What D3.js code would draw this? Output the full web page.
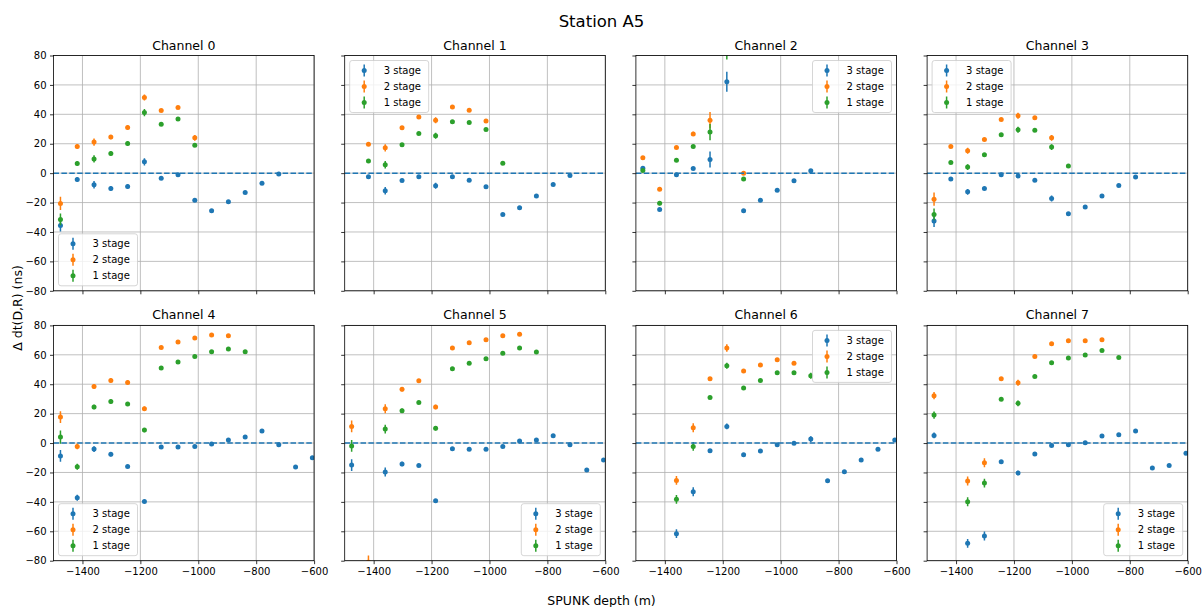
<!DOCTYPE html>
<html>
<head>
<meta charset="utf-8">
<script src="https://cdn.jsdelivr.net/npm/d3@7"></script>
<style>
  body { margin: 0; background: #fff; }
  svg text { font-family: "DejaVu Sans", sans-serif; fill: #000; }
</style>
</head>
<body>
<svg width="1203" height="607"></svg>
<script>
// depths of the pulser positions (m)
var depths = [-1476, -1418, -1360, -1302, -1244, -1186, -1128, -1070, -1012, -954, -896, -838, -780, -722, -664, -606];

var xTicks = [-1400, -1200, -1000, -800, -600];
var yTicks = [-80, -60, -40, -20, 0, 20, 40, 60, 80];

var channelNames = ["Channel 0", "Channel 1", "Channel 2", "Channel 3", "Channel 4", "Channel 5", "Channel 6", "Channel 7"];
var seriesNames = ["3 stage", "2 stage", "1 stage"];
var seriesColors = ["#1f77b4", "#ff7f0e", "#2ca02c"];
var legendLoc = ["ll", "ul", "ur", "ul", "ll", "lr", "ur", "lr"];

var N = null;

// channel 0
var ch0_s3 = [-35.6, -4.3, -7.9, -10.4, -9.1, 7.7, -3.4, -1.1, -18.4, -25.6, -19.5, -13.1, -6.8, -0.5, N, N];
var ch0_e3 = [4, 1.5, 2.5, 1.5, 1.5, 2.5, 1, 1, 1, 1, 1, 1, 1, 1, N, N];
var ch0_s2 = [-20.6, 18.1, 21.1, 24.5, 31.0, 51.4, 42.6, 44.6, 24.0, N, N, N, N, N, N, N];
var ch0_e2 = [4.5, 1.5, 2.5, 1.5, 1.5, 2, 1, 1, 2, N, N, N, N, N, N, N];
var ch0_s1 = [-31.5, 6.6, 9.7, 13.4, 20.2, 41.2, 33.3, 36.9, 19.0, N, N, N, N, N, N, N];
var ch0_e1 = [4, 1.5, 2.5, 1.5, 1.5, 2.5, 1, 1, 1, N, N, N, N, N, N, N];

// channel 1
var ch1_s3 = [N, -2.5, -12.0, -5.0, -2.5, -8.6, -2.5, -4.8, -9.3, -28.1, -23.6, -15.6, -7.7, -1.6, N, N];
var ch1_e3 = [N, 1, 2.5, 1, 1, 2, 1, 1, 1, 1, 1, 1, 1, 1, N, N];
var ch1_s2 = [N, 19.7, 17.2, 30.8, 38.1, 36.0, 44.9, 42.8, 35.4, N, N, N, N, N, N, N];
var ch1_e2 = [N, 1, 2.5, 1, 1, 2, 1, 1, 1, N, N, N, N, N, N, N];
var ch1_s1 = [N, 8.2, 5.7, 19.3, 27.0, 25.4, 34.9, 34.4, 29.7, 6.8, N, N, N, N, N, N];
var ch1_e1 = [N, 1, 2.5, 1, 1, 2, 1, 1, 1, 1, N, N, N, N, N, N];

// channel 2
var ch2_s3 = [3.4, -24.7, -1.1, 3.2, 9.3, 62.1, -25.6, -18.4, -11.6, -5.2, 1.6, N, N, N, N, N];
var ch2_e3 = [1, 1, 1, 1, 5.5, 6.8, 1, 1, 1, 1, 1, N, N, N, N, N];
var ch2_s2 = [10.4, -10.9, 17.5, 26.7, 36.0, N, 0.0, N, N, N, N, N, N, N, N, N];
var ch2_e2 = [1, 1, 1, 1.5, 5.5, N, 1, N, N, N, N, N, N, N, N, N];
var ch2_s1 = [1.8, -20.4, 8.8, 18.1, 27.9, 84, -3.9, N, N, N, N, N, N, N, N, N];
var ch2_e1 = [1, 1.5, 1, 1, 5.5, 6.8, 1, N, N, N, N, N, N, N, N, N];

// channel 3
var ch3_s3 = [-32.6, -3.9, -12.7, -10.4, -1.1, -2.0, -4.8, -17.2, -27.6, -23.1, -15.6, -8.4, -2.7, N, N, N];
var ch3_e3 = [4, 1, 2, 1, 1, 1, 1, 2, 1, 1, 1, 1, 1, N, N, N];
var ch3_s2 = [-17.7, 18.1, 15.2, 22.9, 36.5, 39.0, 37.6, 24.0, N, N, N, N, N, N, N, N];
var ch3_e2 = [4.5, 1, 2, 1, 1, 2, 1, 2, N, N, N, N, N, N, N, N];
var ch3_s1 = [-28.1, 7.3, 4.1, 12.5, 26.1, 29.5, 29.2, 17.7, 4.8, N, N, N, N, N, N, N];
var ch3_e1 = [4, 1, 2, 1, 1, 2, 1, 2, 1, N, N, N, N, N, N, N];

// channel 4
var ch4_s3 = [-8.8, -37.2, -4.1, -7.7, -15.9, -39.7, -2.7, -2.7, -2.3, -0.7, 2.0, 4.1, 8.2, -1.1, -16.3, -10.0];
var ch4_e3 = [4, 2, 2, 1.5, 1, 1, 1, 1, 1, 1, 1, 1, 1, 1, 1, 1];
var ch4_s2 = [17.7, -2.3, 38.5, 42.6, 41.2, 23.3, 65.0, 68.7, 71.4, 73.4, 73.0, N, N, N, N, N];
var ch4_e2 = [4, 2, 1.5, 1.5, 1.5, 1.5, 1, 1, 1, 1, 1, N, N, N, N, N];
var ch4_s1 = [4.1, -16.1, 24.5, 28.3, 26.5, 8.8, 51.0, 55.1, 58.9, 62.1, 63.9, 62.1, N, N, N, N];
var ch4_e1 = [4.5, 2, 1.5, 1.5, 1, 1.5, 1, 1, 1, 1, 1, 1, N, N, N, N];

// channel 5
var ch5_s3 = [-15.0, N, -19.7, -14.3, -15.2, -39.2, -3.9, -4.3, -4.3, -2.3, 1.4, 2.0, 5.0, -1.1, -18.4, -11.6];
var ch5_e3 = [4, N, 3, 1.5, 1, 1, 1, 1, 1, 1, 1, 1, 1, 1, 1, 1];
var ch5_s2 = [11.3, -81, 23.3, 36.5, 42.4, 24.5, 64.6, 68.2, 70.3, 73.0, 73.9, N, N, N, N, N];
var ch5_e2 = [4, 4.5, 3, 1.5, 1, 1.5, 1, 1, 1, 1, 1, N, N, N, N, N];
var ch5_s1 = [-2.0, N, 9.5, 22.0, 27.6, 10.0, 50.5, 54.2, 57.3, 61.0, 64.6, 61.9, N, N, N, N];
var ch5_e1 = [4, N, 3, 1.5, 1, 1.5, 1, 1, 1, 1, 1, 1, N, N, N, N];

// channel 6
var ch6_s3 = [N, N, -61.6, -33.1, -5.2, 11.3, -7.9, -5.4, -1.1, -0.2, 2.7, -25.6, -19.5, -11.6, -4.3, 2.0];
var ch6_e3 = [N, N, 3, 3, 1, 2, 1, 1, 1, 1, 2, 1, 1, 1, 1, 1];
var ch6_s2 = [N, N, -25.4, 10.4, 43.7, 64.6, 49.0, 53.0, 56.7, 54.2, N, N, N, N, N, N];
var ch6_e2 = [N, N, 3, 3, 1, 2.5, 1, 1, 1, 1, N, N, N, N, N, N];
var ch6_s1 = [N, N, -38.3, -2.3, 31.0, 52.6, 37.4, 42.6, 47.8, 47.8, 45.8, N, N, N, N, N];
var ch6_e1 = [N, N, 3, 3, 1, 2, 1, 1, 1, 1, 2, N, N, N, N, N];

// channel 7
var ch7_s3 = [5.2, N, -68.2, -63.2, -12.7, -20.4, -7.5, -1.6, -1.1, 0.2, 4.8, 5.7, 8.2, -17.0, -15.2, -7.0];
var ch7_e3 = [2, N, 3, 3, 1, 1.5, 1, 1, 1, 1, 1, 1, 1, 1, 1, 1];
var ch7_s2 = [32.2, N, -25.8, -13.4, 43.7, 41.0, 58.9, 67.5, 69.6, 69.6, 70.3, N, N, N, N, N];
var ch7_e2 = [2.5, N, 3, 3, 1, 2, 1, 1, 1, 1, 1, N, N, N, N, N];
var ch7_s1 = [19.0, N, -39.9, -27.2, 29.7, 27.0, 45.3, 54.6, 57.8, 59.8, 63.0, 58.2, N, N, N, N];
var ch7_e1 = [2.5, N, 3, 3, 1, 2, 1, 1, 1, 1, 1, 1, N, N, N, N];

var channelValues = [
  [ch0_s3, ch0_s2, ch0_s1], [ch1_s3, ch1_s2, ch1_s1], [ch2_s3, ch2_s2, ch2_s1], [ch3_s3, ch3_s2, ch3_s1],
  [ch4_s3, ch4_s2, ch4_s1], [ch5_s3, ch5_s2, ch5_s1], [ch6_s3, ch6_s2, ch6_s1], [ch7_s3, ch7_s2, ch7_s1]
];
var channelErrors = [
  [ch0_e3, ch0_e2, ch0_e1], [ch1_e3, ch1_e2, ch1_e1], [ch2_e3, ch2_e2, ch2_e1], [ch3_e3, ch3_e2, ch3_e1],
  [ch4_e3, ch4_e2, ch4_e1], [ch5_e3, ch5_e2, ch5_e1], [ch6_e3, ch6_e2, ch6_e1], [ch7_e3, ch7_e2, ch7_e1]
];

var svg = d3.select("svg");

var axLeft = [53.5, 344.7, 635.9, 927.1],
  axTop = [55.5, 325.4],
  axW = 260.6,
  axH = 235.3;

var xScale = d3.scaleLinear().domain([-1500, -600]).range([0, axW]);
var yScale = d3.scaleLinear().domain([-80, 80]).range([axH, 0]);

// figure title and shared labels
svg.append("text")
  .attr("x", 601.5)
  .attr("y", 27)
  .attr("text-anchor", "middle")
  .attr("font-size", "16.5px")
  .text("Station A5");

svg.append("text")
  .attr("x", 601.5)
  .attr("y", 605)
  .attr("text-anchor", "middle")
  .attr("font-size", "12.5px")
  .text("SPUNK depth (m)");

svg.append("text")
  .attr("transform", "translate(22,308) rotate(-90)")
  .attr("text-anchor", "middle")
  .attr("font-size", "12.5px")
  .text("Δ dt(D,R) (ns)");

channelNames.forEach(function (name, c) {
  var row = Math.floor(c / 4), col = c % 4;
  var g = svg.append("g")
    .attr("transform", "translate(" + axLeft[col] + "," + axTop[row] + ")");

  g.append("clipPath")
    .attr("id", "clip" + c)
    .append("rect")
    .attr("width", axW)
    .attr("height", axH);

  // grid
  g.append("g")
    .selectAll("line")
    .data(xTicks)
    .enter()
    .append("line")
    .attr("x1", function (d) { return xScale(d); })
    .attr("x2", function (d) { return xScale(d); })
    .attr("y1", 0)
    .attr("y2", axH)
    .attr("stroke", "#b0b0b0")
    .attr("stroke-width", 0.8);
  g.append("g")
    .selectAll("line")
    .data(yTicks)
    .enter()
    .append("line")
    .attr("x1", 0)
    .attr("x2", axW)
    .attr("y1", function (d) { return yScale(d); })
    .attr("y2", function (d) { return yScale(d); })
    .attr("stroke", "#b0b0b0")
    .attr("stroke-width", 0.8);

  // error bars + markers
  var plot = g.append("g").attr("clip-path", "url(#clip" + c + ")");
  seriesNames.forEach(function (s, k) {
    var vals = channelValues[c][k], errs = channelErrors[c][k];
    var pts = [];
    vals.forEach(function (v, i) {
      if (v !== null) pts.push({ x: depths[i], y: v, e: errs[i] });
    });
    var sg = plot.append("g");
    sg.selectAll("line")
      .data(pts)
      .enter()
      .append("line")
      .attr("x1", function (d) { return xScale(d.x); })
      .attr("x2", function (d) { return xScale(d.x); })
      .attr("y1", function (d) { return yScale(d.y - d.e); })
      .attr("y2", function (d) { return yScale(d.y + d.e); })
      .attr("stroke", seriesColors[k])
      .attr("stroke-width", 1.5);
    sg.selectAll("circle")
      .data(pts)
      .enter()
      .append("circle")
      .attr("cx", function (d) { return xScale(d.x); })
      .attr("cy", function (d) { return yScale(d.y); })
      .attr("r", 2.5)
      .attr("fill", seriesColors[k]);
  });

  // zero line
  plot.append("line")
    .attr("x1", 0)
    .attr("x2", axW)
    .attr("y1", yScale(0))
    .attr("y2", yScale(0))
    .attr("stroke", "#1f77b4")
    .attr("stroke-width", 1.5)
    .attr("stroke-dasharray", "5.5,2.4");

  // axes
  var xAxis = d3.axisBottom(xScale).tickValues(xTicks).tickSize(3.5).tickPadding(3.5)
    .tickFormat(row === 1 ? function (d) { return d3.format("d")(d).replace("-", "\u2212"); } : "");
  var yAxis = d3.axisLeft(yScale).tickValues(yTicks).tickSize(3.5).tickPadding(3.5)
    .tickFormat(col === 0 ? function (d) { return d3.format("d")(d).replace("-", "\u2212"); } : "");

  var xa = g.append("g").attr("transform", "translate(0," + axH + ")").call(xAxis);
  var ya = g.append("g").call(yAxis);
  [xa, ya].forEach(function (a) {
    a.select(".domain").remove();
    a.selectAll("line").attr("stroke", "#000").attr("stroke-width", 0.8);
    a.selectAll("text").attr("font-size", "10px").attr("font-family", "DejaVu Sans").attr("fill", "#000");
  });

  g.append("rect")
    .attr("width", axW)
    .attr("height", axH)
    .attr("fill", "none")
    .attr("stroke", "#000")
    .attr("stroke-width", 0.8);

  // title
  g.append("text")
    .attr("x", axW / 2)
    .attr("y", -6)
    .attr("text-anchor", "middle")
    .attr("font-size", "12.5px")
    .text(name);

  // legend
  var lw = 79, lh = 52;
  var loc = legendLoc[c];
  var lx = loc.charAt(1) === "l" ? 5 : axW - 5 - lw;
  var ly = loc.charAt(0) === "u" ? 5 : axH - 5 - lh;
  var lg = g.append("g").attr("transform", "translate(" + lx + "," + ly + ")");
  lg.append("rect")
    .attr("width", lw)
    .attr("height", lh)
    .attr("rx", 2.5)
    .attr("fill", "#fff")
    .attr("fill-opacity", 0.8)
    .attr("stroke", "#cccccc")
    .attr("stroke-width", 0.8);
  seriesNames.forEach(function (s, k) {
    var cy = 10 + k * 16;
    lg.append("line")
      .attr("x1", 14.5).attr("x2", 14.5)
      .attr("y1", cy - 6).attr("y2", cy + 6)
      .attr("stroke", seriesColors[k])
      .attr("stroke-width", 1.5);
    lg.append("circle")
      .attr("cx", 14.5).attr("cy", cy)
      .attr("r", 2.5)
      .attr("fill", seriesColors[k]);
    lg.append("text")
      .attr("x", 34)
      .attr("y", cy)
      .attr("dy", "0.35em")
      .attr("font-size", "10px")
      .text(s);
  });
});
</script>
</body>
</html>
